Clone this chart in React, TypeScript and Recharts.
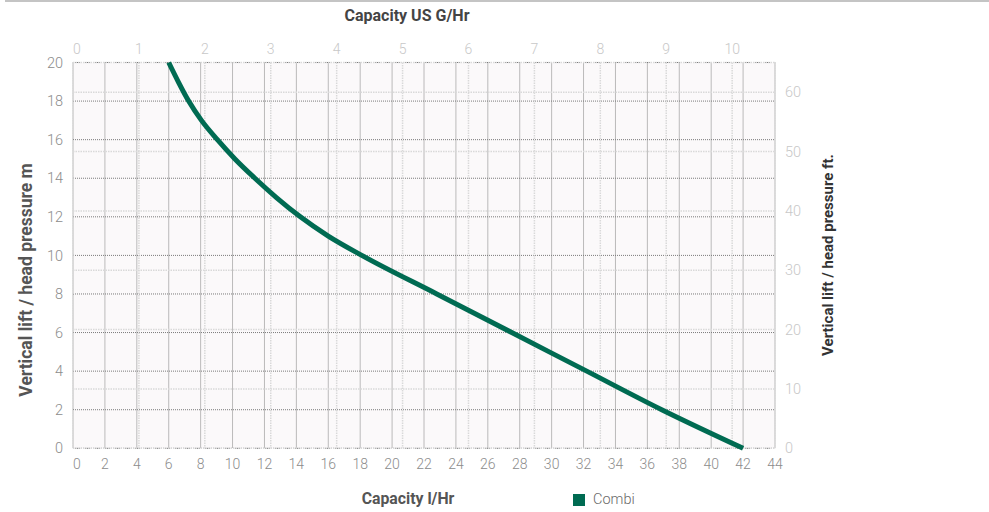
import React from "react";
import { LineChart, Line, XAxis, YAxis, CartesianGrid, Legend } from "recharts";

const litresPerHour = [6, 6.6, 7.25, 8.05, 9.05, 10.15, 11.4, 12.75, 14.25, 16.0, 18.1, 22.8, 27.5, 32.2, 36.9, 42];
const headMetres = [20, 19, 18, 17, 16, 15, 14, 13, 12, 11, 10, 8, 6, 4, 2, 0];
const litreTicks = [0, 2, 4, 6, 8, 10, 12, 14, 16, 18, 20, 22, 24, 26, 28, 30, 32, 34, 36, 38, 40, 42, 44];
const gallonTicks = [0, 1, 2, 3, 4, 5, 6, 7, 8, 9, 10];
const metreTicks = [0, 2, 4, 6, 8, 10, 12, 14, 16, 18, 20];
const feetTicks = [0, 10, 20, 30, 40, 50, 60];
const seriesName = "Combi";

const data = litresPerHour.map((l, i) => ({ l, m: headMetres[i] }));

const FONT = "Roboto, 'Noto Sans', sans-serif";
const GREEN = "#006b52";

const XTick = (color: string, top: boolean) => (props: any) => {
  const { x, y, payload } = props;
  const dx = payload.value === 0 ? 4 : 0;
  return (
    <text
      x={x + dx}
      y={y}
      dy={top ? 0 : "0.71em"}
      textAnchor="middle"
      fill={color}
      fontSize={14}
      fontWeight={300}
      fontFamily={FONT}
    >
      {payload.value}
    </text>
  );
};

const LegendContent = (props: any) => {
  const items = props.payload || [];
  return (
    <div style={{ display: "flex", alignItems: "center", fontFamily: FONT }}>
      {items.map((it: any) => (
        <div key={it.value} style={{ display: "flex", alignItems: "center" }}>
          <div style={{ width: 12, height: 12, background: it.color, marginRight: 8 }} />
          <span style={{ color: "#6a6a6a", fontSize: 14.5, fontWeight: 300 }}>{it.value}</span>
        </div>
      ))}
    </div>
  );
};

export default function App() {
  return (
    <div style={{ position: "absolute", left: 0, top: 0, width: 989, height: 512, background: "#fff" }}>
      <div style={{ position: "absolute", left: 5, top: 0, width: 984, height: 1.5, background: "#c4c4c4" }} />
      <LineChart
        width={989}
        height={512}
        data={data}
        margin={{ top: 37.5, right: 154, bottom: 17.7, left: 0 }}
      >
        <CartesianGrid
          xAxisId="bottom"
          yAxisId="left"
          stroke="#7a7a7a"
          strokeDasharray="1 1"
          fill="#fbf9fa"
          fillOpacity={1}
        />
        <CartesianGrid
          xAxisId="top"
          yAxisId="right"
          stroke="#d9d9d9"
          strokeWidth={1.5}
          strokeDasharray="1.5 1"
        />
        <XAxis
          xAxisId="bottom"
          dataKey="l"
          type="number"
          domain={[0, 44]}
          ticks={litreTicks}
          interval={0}
          height={30}
          axisLine={false}
          tickLine={false}
          tickMargin={5}
          tick={XTick("#8c8c8c", false)}
        />
        <XAxis
          xAxisId="top"
          dataKey="l"
          orientation="top"
          type="number"
          domain={[0, 10.65]}
          ticks={gallonTicks}
          interval={0}
          height={25}
          axisLine={false}
          tickLine={false}
          tickMargin={3}
          allowDataOverflow
          tick={XTick("#c8c8c8", true)}
        />
        <YAxis
          yAxisId="left"
          type="number"
          domain={[0, 20]}
          ticks={metreTicks}
          interval={0}
          width={73}
          axisLine={false}
          tickLine={false}
          tickMargin={4}
          tick={{ fill: "#8c8c8c", fontSize: 14.5, fontWeight: 300, fontFamily: FONT }}
        />
        <YAxis
          yAxisId="right"
          dataKey="m"
          orientation="right"
          type="number"
          domain={[0, 65]}
          ticks={feetTicks}
          interval={0}
          width={60}
          axisLine={false}
          tickLine={false}
          tickMargin={4}
          allowDataOverflow
          tick={{ fill: "#c8c8c8", fontSize: 14.5, fontWeight: 300, fontFamily: FONT }}
        />
        <Line
          xAxisId="bottom"
          yAxisId="left"
          dataKey="m"
          name={seriesName}
          type="monotone"
          stroke={GREEN}
          strokeWidth={5}
          dot={false}
          activeDot={false}
          isAnimationActive={false}
        />
        <Legend
          content={LegendContent}
          wrapperStyle={{ position: "absolute", left: 573, top: 491, width: "auto", height: 16 }}
        />
      </LineChart>
      <svg
        width={989}
        height={512}
        style={{ position: "absolute", left: 0, top: 0, pointerEvents: "none" }}
      >
        <text x={407} y={21} textAnchor="middle" fontFamily={FONT} fontWeight={700} fontSize={16} fill="#444">
          Capacity US G/Hr
        </text>
        <text x={408} y={504} textAnchor="middle" fontFamily={FONT} fontWeight={700} fontSize={15.8} fill="#555">
          Capacity l/Hr
        </text>
        <text
          transform="translate(32,280) rotate(-90)"
          textAnchor="middle"
          fontFamily={FONT}
          fontWeight={700}
          fontSize={17.5}
          fill="#555"
        >
          Vertical lift / head pressure m
        </text>
        <text
          transform="translate(833,255) rotate(-90)"
          textAnchor="middle"
          fontFamily={FONT}
          fontWeight={700}
          fontSize={15}
          fill="#333"
        >
          Vertical lift / head pressure ft.
        </text>
      </svg>
    </div>
  );
}
